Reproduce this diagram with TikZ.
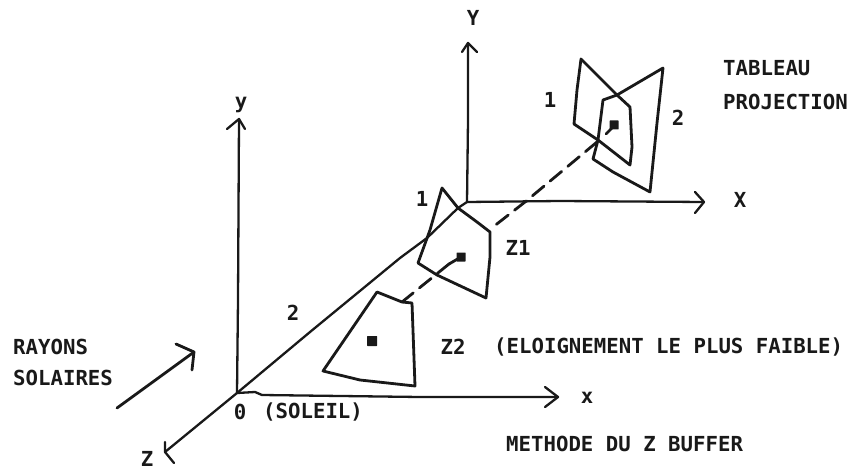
\documentclass[tikz,border=0pt]{standalone}
\usepackage{fontspec}
\setmainfont{DejaVu Sans Mono}
\begin{document}
\begin{tikzpicture}[x=1pt,y=-1pt,
 ink/.style={line width=2.8pt,line join=round,line cap=round,black!90},
 axis/.style={ink,line width=2.3pt},
 lab/.style={font=\fontsize{20.7}{22}\selectfont\bfseries,inner sep=0pt,anchor=west,black!90},
 labc/.style={lab,anchor=center},
 dot/.style={fill=black!90,inner sep=0pt,minimum size=9pt,rounded corners=.5pt}]
\useasboundingbox (0,0) rectangle (850,470);
\coordinate (O) at (237,393);
\coordinate (yt) at (239,119);
\coordinate (xt) at (558,397);
\coordinate (zt) at (165,452);
\coordinate (C) at (467,202);
\coordinate (Yt) at (468,43);
\coordinate (Xt) at (704,202);
\node[labc] (lx) at (587,398) {x};
\node[labc] (ly) at (241,105) {y};
\node[labc] (lz) at (147,459) {Z};
\node[labc] (lY) at (473,18) {Y};
\node[labc] (lX) at (740,200) {X};
\node[labc] (l0) at (240,412) {0};
\node[lab] (sol) at (263,412) {(SOLEIL)};
\node[labc] (n2) at (293,313) {2};
\node[labc] (n1a) at (422,199) {1};
\node[labc] (n1b) at (550,100) {1};
\node[labc] (n2b) at (678,118) {2};
\node[labc] (z1) at (518,248) {Z1};
\node[labc] (z2) at (453,347) {Z2};
\node[lab] (el) at (494,347) {(ELOIGNEMENT LE PLUS FAIBLE)};
\node[lab] (ta) at (723,68) {TABLEAU};
\node[lab] (pr) at (723,102) {PROJECTION};
\node[lab] (ra) at (13,347) {RAYONS};
\node[lab] (so) at (13,378) {SOLAIRES};
\node[lab] (me) at (506,444) {METHODE DU Z BUFFER};
% axes
\draw[axis] (O) -- (238,300) -- (yt);
\draw[axis] (227,129) -- (yt) -- (245,129);
\draw[axis] (O) -- (255,392) -- (262,395) -- (420,397) -- (xt);
\draw[axis] (545,387) -- (xt) -- (545,407);
\draw[axis] (O) -- (zt);
\draw[axis] (165,442) -- (zt) -- (174,463);
\draw[axis] (O) -- (310,332) -- (400,258) -- (427,238) -- (458,208) -- (C);
\draw[axis] (C) -- (468,120) -- (Yt);
\draw[axis] (462,52) -- (Yt) -- (477,52);
\draw[axis] (C) -- (560,201) -- (Xt);
\draw[axis] (695,192) -- (Xt) -- (695,213);
% rays arrow
\coordinate (ra1) at (117,408);
\coordinate (ra2) at (194,352);
\draw[ink] (ra1) -- (150,384) -- (ra2);
\draw[ink] (176,344) -- (ra2) -- (192,370);
% far plane 1
\draw[ink] (581,59) -- (617,95) -- (630,107) -- (632,147) -- (630,165) -- (598,140) -- (574,124) -- (577,90) -- cycle;
% far plane 2
\draw[ink] (663,68) -- (617,95) -- (603,100) -- (598,140) -- (593,159) -- (613,172) -- (650,192) -- (657,123) -- cycle;
\node[dot] (d1) at (614,125) {};
\draw[ink] (612,128) -- (606,134);
% middle plane
\draw[ink] (442,188) -- (458,208) -- (477,222) -- (490,232) -- (490,257) -- (486,298) -- (437,275) -- (418,263) -- (430,230) -- cycle;
\node[dot] (d2) at (461,257) {};
\draw[ink] (d2.center) -- (449,264);
% lower plane
\draw[ink] (377,292) -- (402,302) -- (412,303) -- (415,386) -- (360,380) -- (323,371) -- cycle;
\node[dot,minimum size=10pt] (d3) at (372,341) {};
% dashed line
\draw[ink,dash pattern=on 15pt off 8pt] (597,142) -- (525,202) -- (493,227);
\draw[ink,dash pattern=on 15pt off 8pt] (449,264) -- (402,302);
\end{tikzpicture}
\end{document}
